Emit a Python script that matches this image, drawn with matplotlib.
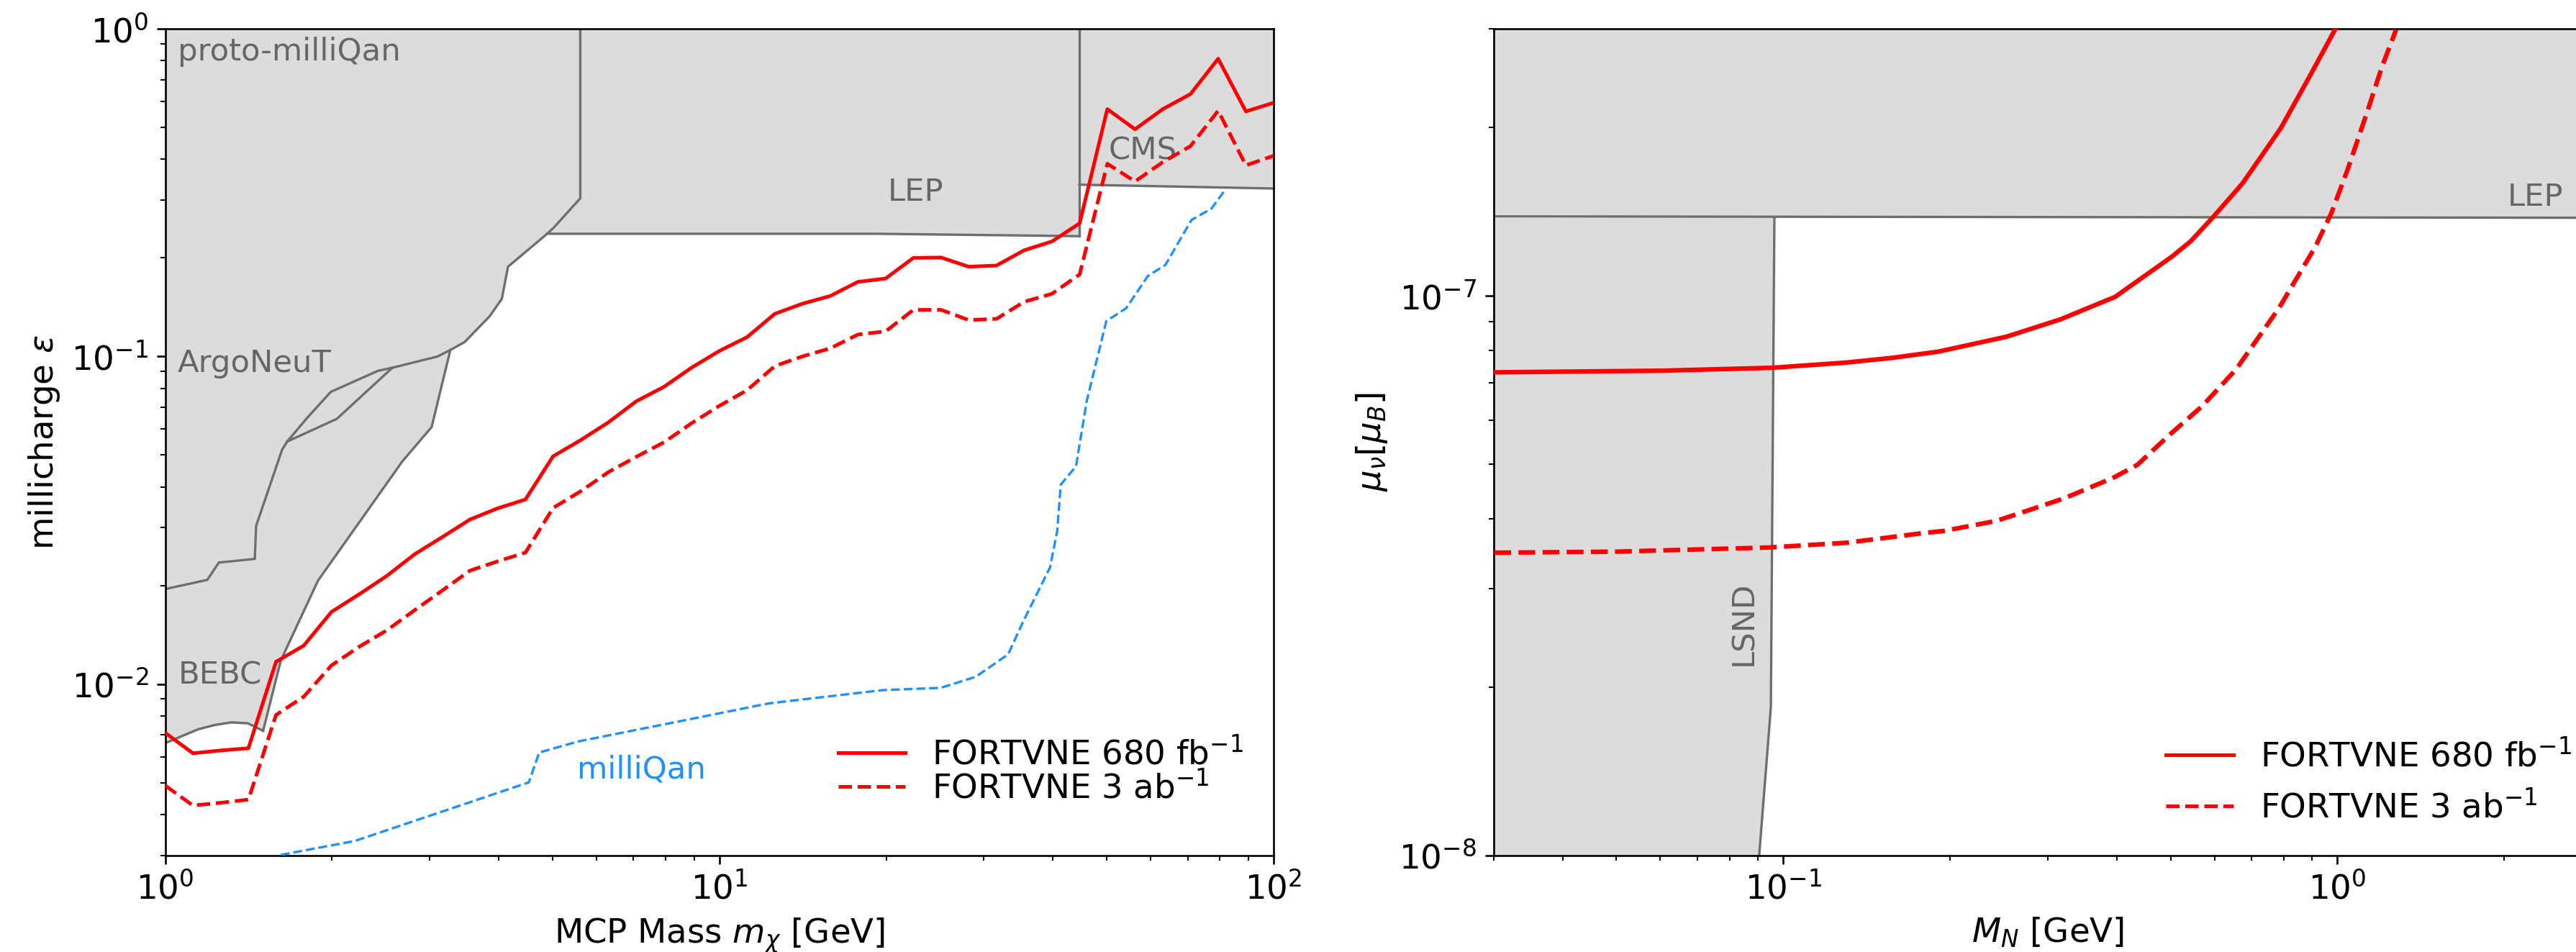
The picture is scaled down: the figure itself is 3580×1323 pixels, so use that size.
import matplotlib
matplotlib.use('Agg')
import matplotlib.pyplot as plt
from matplotlib.lines import Line2D
import numpy as np

# ---------------- Left panel: millicharged particles ----------------
mcp_mass = [1.0, 1.122, 1.259, 1.413, 1.585, 1.778, 1.995, 2.239, 2.512, 2.818,
            3.162, 3.548, 3.981, 4.467, 5.012, 5.623, 6.310, 7.079, 7.943, 8.913,
            10.0, 11.22, 12.59, 14.13, 15.85, 17.78, 19.95, 22.39, 25.12, 28.18,
            31.62, 35.48, 39.81, 44.67, 50.12, 56.23, 63.10, 70.79, 79.43, 89.13, 100.0]
eps_680fb = [0.0071, 0.00615, 0.00627, 0.00637, 0.0117, 0.0131, 0.0166, 0.0188, 0.0214, 0.0249,
             0.0281, 0.0318, 0.0344, 0.0366, 0.0496, 0.0556, 0.063, 0.073, 0.0808, 0.0925,
             0.104, 0.1146, 0.135, 0.145, 0.153, 0.169, 0.173, 0.200, 0.2005, 0.188,
             0.1895, 0.211, 0.2245, 0.255, 0.569, 0.494, 0.569, 0.6325, 0.811, 0.56, 0.595]
eps_3ab = [0.0049, 0.00426, 0.00434, 0.00444, 0.00805, 0.00915, 0.0114, 0.0130, 0.0146, 0.0168,
           0.0193, 0.0222, 0.0237, 0.0252, 0.0345, 0.0388, 0.0444, 0.0494, 0.0547, 0.0626,
           0.0707, 0.0789, 0.0935, 0.1001, 0.1059, 0.1167, 0.1193, 0.1388, 0.1388, 0.1292,
           0.1303, 0.1469, 0.1554, 0.178, 0.3877, 0.3423, 0.392, 0.4387, 0.5625, 0.3833, 0.41]

milliqan_x = [1.617, 2.20, 4.53, 4.73, 5.56, 6.39, 9.01, 12.27, 19.65, 25.09, 29.0, 33.2,
              35.4, 39.5, 40.7, 41.3, 44.0, 46.0, 49.9, 54.2, 59.3, 63.8, 71.1, 77.2, 81.5]
milliqan_y = [0.00301, 0.00332, 0.00501, 0.00618, 0.00668, 0.0070, 0.00786, 0.00873, 0.00958,
              0.00974, 0.01052, 0.01233, 0.01563, 0.0227, 0.02934, 0.04065, 0.0462, 0.073,
              0.1282, 0.1404, 0.176, 0.1904, 0.2611, 0.2826, 0.32]

proto_x = [5.61, 5.61, 5.02, 4.89, 4.155, 4.05, 3.85, 3.47, 3.27, 3.10, 2.57, 2.42, 1.99,
           1.807, 1.66, 1.625, 1.459, 1.451, 1.25, 1.191, 1.0]
proto_y = [1.0, 0.304, 0.247, 0.237, 0.188, 0.150, 0.1327, 0.1107, 0.1047, 0.100, 0.0924,
           0.0904, 0.078, 0.0652, 0.055, 0.0519, 0.0304, 0.0241, 0.0235, 0.0208, 0.0195]
argo_x = [1.66, 2.04, 2.57]
argo_y = [0.055, 0.0645, 0.0924]
bebc_x = [3.27, 3.025, 2.68, 1.887, 1.617, 1.502]
bebc_y = [0.1047, 0.0609, 0.0479, 0.0207, 0.01182, 0.0072]
bebc_lo_x = [1.0, 1.147, 1.229, 1.316, 1.409, 1.502]
bebc_lo_y = [0.0066, 0.00728, 0.0075, 0.00764, 0.00759, 0.0072]
lep_x = [4.89, 18.95, 44.6]
lep_y = [0.237, 0.237, 0.233]
cms_x = [44.6, 100.0]
cms_y = [0.3346, 0.3257]

# ---------------- Right panel: neutrino magnetic moment ----------------
mn_680 = [0.0301, 0.0607, 0.0959, 0.130, 0.1575, 0.1906, 0.2525, 0.3166, 0.3972, 0.5026,
          0.5436, 0.5943, 0.6743, 0.7906, 0.8969, 0.9917]
mu_680 = [7.30e-8, 7.35e-8, 7.44e-8, 7.60e-8, 7.75e-8, 7.95e-8, 8.45e-8, 9.08e-8, 9.96e-8,
          1.175e-7, 1.252e-7, 1.377e-7, 1.589e-7, 1.995e-7, 2.497e-7, 3.0e-7]
mn_3ab = [0.0301, 0.0501, 0.0941, 0.130, 0.180, 0.1947, 0.2421, 0.2626, 0.3221, 0.394,
          0.4357, 0.4984, 0.57, 0.6572, 0.7844, 0.912, 0.975, 1.043, 1.134, 1.203, 1.276]
mu_3ab = [3.475e-8, 3.49e-8, 3.55e-8, 3.62e-8, 3.77e-8, 3.80e-8, 3.96e-8, 4.065e-8, 4.35e-8,
          4.73e-8, 4.99e-8, 5.65e-8, 6.35e-8, 7.40e-8, 9.51e-8, 1.223e-7, 1.405e-7, 1.68e-7,
          2.145e-7, 2.565e-7, 2.99e-7]
lsnd_x = [0.0964, 0.0950, 0.0905]
lsnd_y = [1.38e-7, 1.84e-8, 1.0e-8]
lep_r_x = [0.03, 3.0]
lep_r_y = [1.387e-7, 1.379e-7]

legend_labels = [r'FORTVNE 680 fb$^{-1}$', r'FORTVNE 3 ab$^{-1}$']

FILL = '#dcdcdc'
EDGE = '#6e6e6e'
TXT = '#666666'

plt.rcParams['font.size'] = 14
fig = plt.figure(figsize=(3580 / 240, 1323 / 240), dpi=240)
ax1 = fig.add_axes([0.06413, 0.10152, 0.43028, 0.86810])
ax2 = fig.add_axes([0.57975, 0.10152, 0.43028, 0.86810])

# ---- left panel ----
ax1.set_xscale('log')
ax1.set_yscale('log')
ax1.fill(list(proto_x) + [1.0], list(proto_y) + [1.0], color=FILL, lw=0, zorder=1)
ax1.fill(list(bebc_x) + bebc_lo_x[::-1] + [1.0], list(bebc_y) + bebc_lo_y[::-1] + [bebc_y[0]],
         color=FILL, lw=0, zorder=1)
ax1.fill_between(lep_x, lep_y, 1.0, color=FILL, lw=0, zorder=1)
ax1.fill_between(cms_x, cms_y, 1.0, color=FILL, lw=0, zorder=1)
ax1.plot(proto_x, proto_y, color=EDGE, lw=1, zorder=2)
ax1.plot(argo_x, argo_y, color=EDGE, lw=1, zorder=2)
ax1.plot(bebc_x, bebc_y, color=EDGE, lw=1, zorder=2)
ax1.plot(bebc_lo_x, bebc_lo_y, color=EDGE, lw=1, zorder=2)
ax1.plot(lep_x, lep_y, color=EDGE, lw=1, zorder=2)
ax1.plot([lep_x[-1], lep_x[-1]], [lep_y[-1], 1.0], color=EDGE, lw=1, zorder=2)
ax1.plot(cms_x, cms_y, color=EDGE, lw=1, zorder=2)

ax1.plot(milliqan_x, milliqan_y, color='dodgerblue', lw=1, ls='--', zorder=3)
ax1.plot(mcp_mass, eps_680fb, color='red', lw=1.5, ls='-', zorder=4, label=legend_labels[0])
ax1.plot(mcp_mass, eps_3ab, color='red', lw=1.5, ls='--', zorder=4, label=legend_labels[1])

ax1.text(1.053, 0.80, 'proto-milliQan', color=TXT, fontsize=13)
ax1.text(1.053, 0.0898, 'ArgoNeuT', color=TXT, fontsize=13)
ax1.text(1.055, 0.0100, 'BEBC', color=TXT, fontsize=13)
ax1.text(20.1, 0.299, 'LEP', color=TXT, fontsize=13)
ax1.text(50.4, 0.399, 'CMS', color=TXT, fontsize=13)
ax1.text(5.54, 0.00517, 'milliQan', color='dodgerblue', fontsize=13)

ax1.set_xlim(1, 100)
ax1.set_ylim(0.003, 1.0)
ax1.set_xlabel(r'MCP Mass $m_\chi$ [GeV]')
ax1.set_ylabel(r'millicharge $\varepsilon$')
ax1.legend(loc='lower right', bbox_to_anchor=(1.0, 0.0235), frameon=False, labelspacing=0.0)

# ---- right panel ----
ax2.set_xscale('log')
ax2.set_yscale('log')
ax2.fill_between(lep_r_x, lep_r_y, 1e-6, color=FILL, lw=0, zorder=1)
ax2.fill_betweenx(lsnd_y, 0.03, lsnd_x, color=FILL, lw=0, zorder=1)
ax2.plot(lep_r_x, lep_r_y, color=EDGE, lw=1, zorder=2)
ax2.plot(lsnd_x, lsnd_y, color=EDGE, lw=1, zorder=2)

ax2.plot(mn_680, mu_680, color='red', lw=1.9, ls='-', zorder=4)
ax2.plot(mn_3ab, mu_3ab, color='red', lw=1.9, ls='--', zorder=4)

ax2.text(2.025, 1.45e-7, 'LEP', color=TXT, fontsize=13)
ax2.text(0.0848, 2.6e-8, 'LSND', color=TXT, fontsize=13, rotation=90, ha='center', va='center')

ax2.set_xlim(0.03, 3.0)
ax2.set_ylim(1e-8, 3e-7)
ax2.set_xlabel(r'$M_N$ [GeV]')
ax2.set_ylabel(r'$\mu_\nu [\mu_B]$')
handles = [Line2D([], [], color='red', lw=1.5, ls='-'),
           Line2D([], [], color='red', lw=1.5, ls='--')]
ax2.legend(handles, legend_labels, loc='lower right', frameon=False)

fig.savefig('out.png', dpi=240)
